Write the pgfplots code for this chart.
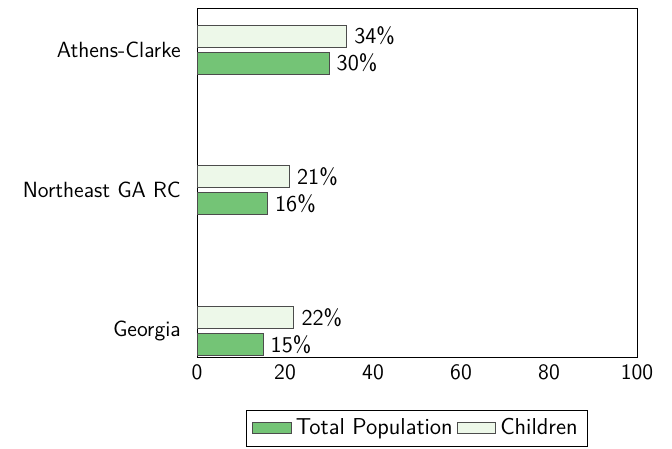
\documentclass[border=0pt]{standalone}
\usepackage{pgfplots}
\pgfplotsset{compat=1.18}
\definecolor{barfull}{RGB}{116,196,118}
\definecolor{barlight}{RGB}{237,248,233}
\begin{document}
\sffamily\fontsize{11}{13.2}\selectfont
\begin{tikzpicture}
\path[use as bounding box] (-98.5pt,-45.5pt) rectangle (237.5pt,178.5pt);
\begin{axis}[
    scale only axis,
    width=220pt, height=174.5pt,
    xbar,
    bar width=11pt,
    xmin=0, xmax=100,
    ymin=-0.185, ymax=2.295,
    ytick={0,1,2},
    yticklabels={Georgia, Northeast GA RC, Athens-Clarke},
    xtick={0,20,40,60,80,100},
    tick style={draw=none},
    /pgf/number format/assume math mode=true,
    ticklabel style={font=\sffamily},
    nodes near coords={\pgfmathprintnumber\pgfplotspointmeta\%},
    nodes near coords style={font=\sffamily\fontsize{11.3}{13}\selectfont, anchor=west},
    legend image code/.code={\draw[#1] (0cm,-0.1cm) rectangle (0.68cm,0.11cm);},
    legend style={at={(0.5,-0.152)}, anchor=north, legend columns=2,
        font=\sffamily\fontsize{11.5}{13.8}\selectfont, draw=black},
]
\addplot[fill=barfull, draw=black!70, bar shift=-6.75pt] coordinates {
    (15,0) (16,1) (30,2)
};
\addplot[fill=barlight, draw=black!70, bar shift=6.75pt] coordinates {
    (22,0) (21,1) (34,2)
};
\legend{Total Population, Children}
\end{axis}
\end{tikzpicture}
\end{document}
